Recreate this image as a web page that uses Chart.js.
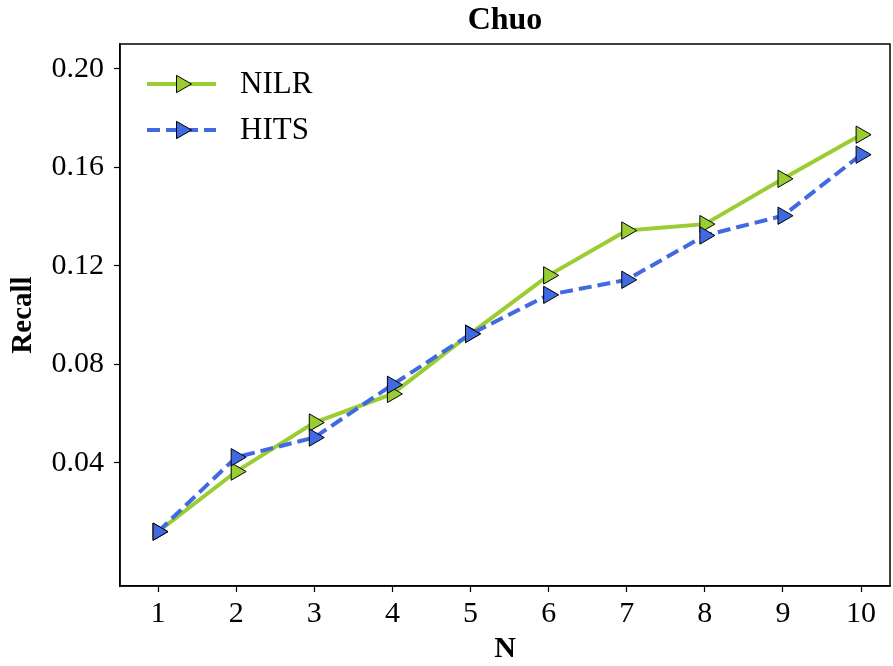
<!DOCTYPE html>
<html lang="en">
<head>
    <meta charset="UTF-8">
    <script src="https://cdn.jsdelivr.net/npm/chart.js"></script>
    <title>Chuo Recall</title>
    <style>
      body { margin: 0; background: #fff; }
      #wrap { width: 893px; height: 666px; }
    </style>
</head>
<body>
    <div id="wrap">
      <canvas id="myChart" width="893" height="666"></canvas>
    </div>
    <script>
      const N = [1, 2, 3, 4, 5, 6, 7, 8, 9, 10]
      const nilr = [0.0121, 0.0365, 0.0564, 0.0680, 0.0925, 0.1161, 0.1343, 0.1369, 0.1553, 0.1732]
      const hits = [0.0121, 0.0423, 0.0503, 0.0717, 0.0923, 0.1082, 0.1143, 0.1323, 0.1403, 0.1651]
      const yTicks = [0.04, 0.08, 0.12, 0.16, 0.20]

      const serif = '"Liberation Serif", "Times New Roman", serif'
      const ctx = document.getElementById('myChart');

      // black frame round the plot area
      const framePlugin = {
        id: 'frame',
        afterDraw(chart) {
          const a = chart.chartArea
          const c = chart.ctx
          c.save()
          c.strokeStyle = '#000'
          c.lineWidth = 1.5
          c.strokeRect(a.left, a.top, a.right - a.left, a.bottom - a.top)
          c.restore()
        }
      }

      // matplotlib style legend: line sample with marker in the middle
      const lineLegend = {
        id: 'lineLegend',
        afterDatasetsDraw(chart) {
          const c = chart.ctx
          const a = chart.chartArea
          chart.data.datasets.forEach((ds, i) => {
            const y = a.top + 40 + i * 46
            const x0 = a.left + 27, x1 = a.left + 96
            c.save()
            c.strokeStyle = ds.borderColor
            c.lineWidth = ds.borderWidth
            c.setLineDash(ds.borderDash || [])
            c.beginPath()
            c.moveTo(x0, y)
            c.lineTo(x1, y)
            c.stroke()
            c.setLineDash([])
            c.fillStyle = ds.pointBackgroundColor
            c.strokeStyle = ds.pointBorderColor
            c.lineWidth = ds.pointBorderWidth
            Chart.helpers.drawPoint(c, {
              pointStyle: 'triangle',
              rotation: 90,
              radius: ds.pointRadius,
              borderWidth: ds.pointBorderWidth
            }, (x0 + x1) / 2, y)
            c.fillStyle = '#000'
            c.font = '31px ' + serif
            c.textBaseline = 'middle'
            c.fillText(ds.label, a.left + 120, y + 1)
            c.restore()
          })
        }
      }

      new Chart(ctx, {
        type: 'line',
        data: {
          datasets: [{
            label: 'NILR',
            data: N.map((n, i) => ({ x: n, y: nilr[i] })),
            borderColor: '#9acd32',
            backgroundColor: '#9acd32',
            borderWidth: 4,
            pointStyle: 'triangle',
            rotation: 90,
            pointRadius: 10,
            pointHoverRadius: 10,
            pointBackgroundColor: '#9acd32',
            pointBorderColor: '#000',
            pointBorderWidth: 1,
            tension: 0,
            order: 2
          }, {
            label: 'HITS',
            data: N.map((n, i) => ({ x: n, y: hits[i] })),
            borderColor: '#4169e1',
            backgroundColor: '#4169e1',
            borderWidth: 4,
            borderDash: [13, 6],
            pointStyle: 'triangle',
            rotation: 90,
            pointRadius: 10,
            pointHoverRadius: 10,
            pointBackgroundColor: '#4169e1',
            pointBorderColor: '#000',
            pointBorderWidth: 1,
            tension: 0,
            order: 1
          }]
        },
        options: {
          responsive: false,
          animation: false,
          layout: { autoPadding: false, padding: { top: 0, right: 3, bottom: 0, left: 0 } },
          plugins: {
            legend: { display: false },
            tooltip: { enabled: false },
            title: {
              display: true,
              text: 'Chuo',
              color: '#000',
              font: { family: serif, size: 32, weight: 'bold' },
              padding: { top: 2, bottom: 3.6 },
              fullSize: false
            }
          },
          scales: {
            x: {
              type: 'linear',
              min: 0.513,
              max: 10.37,
              afterBuildTicks: (s) => { s.ticks = N.map(v => ({ value: v })) },
              afterFit: (s) => { s.height = 80; s.paddingLeft = 0; s.paddingRight = 0 },
              grid: { drawOnChartArea: false, tickLength: 6, color: '#000', tickWidth: 1.2 },
              border: { color: '#000', width: 1.5 },
              ticks: { color: '#000', font: { family: serif, size: 30 }, padding: 4, maxRotation: 0 },
              title: { display: true, text: 'N', color: '#000', font: { family: serif, size: 30, weight: 'bold', lineHeight: 1.1 }, padding: { top: 0, bottom: 0 } }
            },
            y: {
              type: 'linear',
              min: -0.00995,
              max: 0.210,
              afterBuildTicks: (s) => { s.ticks = yTicks.map(v => ({ value: v })) },
              afterFit: (s) => { s.width = 120 },
              grid: { drawOnChartArea: false, tickLength: 6, color: '#000', tickWidth: 1.2 },
              border: { color: '#000', width: 1.5 },
              ticks: { color: '#000', font: { family: serif, size: 30 }, padding: 10, callback: (v) => v.toFixed(2) },
              title: { display: true, text: 'Recall', color: '#000', font: { family: serif, size: 29, weight: 'bold' }, padding: { top: 6, bottom: 0 } }
            }
          }
        },
        plugins: [framePlugin, lineLegend]
      })
    </script>
</body>
</html>
